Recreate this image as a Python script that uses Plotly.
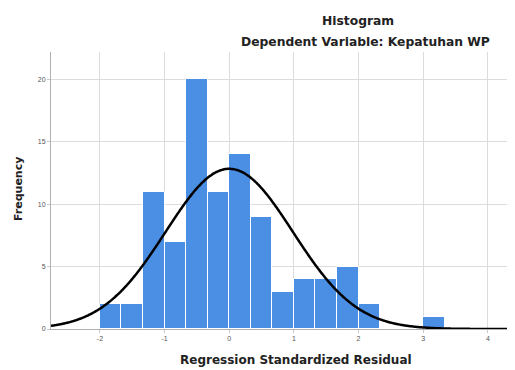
import numpy as np
import plotly.graph_objects as go

# Histogram data (bins of width 1/3 starting at -2)
bin_start = -2.0
bin_width = 1.0 / 3.0
counts = [2, 2, 11, 7, 20, 11, 14, 9, 3, 4, 4, 5, 2, 0, 0, 1]

# Normal curve parameters (SPSS-style overlay)
mean = 0.0
std_dev = 0.984
n_obs = sum(counts)

x_tick_vals = [-2, -1, 0, 1, 2, 3, 4]
x_tick_text = ["-2", "-1", "0", "1", "2", "3", "4"]
y_tick_vals = [0, 5, 10, 15, 20]
y_tick_text = ["0", "5", "10", "15", "20"]

x_range = [-2.757, 4.42]
y_range = [0, 22.2]

centers = [bin_start + bin_width * (i + 0.5) for i in range(len(counts))]

xs = np.linspace(x_range[0], x_range[1], 400)
ys = n_obs * bin_width / (std_dev * np.sqrt(2 * np.pi)) * np.exp(-0.5 * ((xs - mean) / std_dev) ** 2)

FONT = "Arial, Liberation Sans, sans-serif"
TFONT = "DejaVu Sans, Verdana, sans-serif"

OFF = 8  # default page body margin
W, H = 515 - OFF, 370 - OFF
L, R, T, B = 51 - OFF, 0, 52 - OFF, 41
PW, PH = W - L - R, H - T - B


def px(xp):
    return (xp - OFF - L) / PW


def py(yp):
    return (H - B - (yp - OFF)) / PH


fig = go.Figure()
fig.add_trace(go.Bar(
    x=centers, y=counts, width=bin_width,
    marker=dict(color="#4a8fe3", line=dict(color="white", width=1)),
    showlegend=False, hoverinfo="skip",
))
fig.add_trace(go.Scatter(
    x=xs, y=ys, mode="lines",
    line=dict(color="black", width=2.5, shape="spline"),
    showlegend=False, hoverinfo="skip",
))

fig.update_layout(
    width=W, height=H,
    margin=dict(l=L, r=R, t=T, b=B),
    paper_bgcolor="white", plot_bgcolor="white",
    bargap=0,
    font=dict(family=FONT, color="#222"),
    xaxis=dict(
        range=x_range, tickvals=x_tick_vals, ticktext=x_tick_text,
        showgrid=True, gridcolor="#dcdcdc", gridwidth=1,
        showline=True, linecolor="#b0b0b0", linewidth=1,
        zeroline=False, ticks="outside", ticklen=3, tickcolor="#c8c8c8",
        tickfont=dict(size=7, color="#555", family=FONT),
        automargin=False,
    ),
    yaxis=dict(
        range=y_range, tickvals=y_tick_vals, ticktext=y_tick_text,
        showgrid=True, gridcolor="#dcdcdc", gridwidth=1,
        showline=True, linecolor="#b0b0b0", linewidth=1,
        zeroline=False, ticks="outside", ticklen=3, tickcolor="#c8c8c8",
        tickfont=dict(size=7, color="#555", family=FONT),
        automargin=False,
    ),
    annotations=[
        dict(text="<b>Histogram</b>", xref="paper", yref="paper",
             x=px(358), y=py(21), showarrow=False,
             xanchor="center", yanchor="middle",
             font=dict(size=12.3, color="#222", family=TFONT)),
        dict(text="<b>Dependent Variable: Kepatuhan WP</b>", xref="paper", yref="paper",
             x=px(365), y=py(42), showarrow=False,
             xanchor="center", yanchor="middle",
             font=dict(size=12.3, color="#222", family=TFONT)),
        dict(text="<b>Regression Standardized Residual</b>", xref="paper", yref="paper",
             x=px(296), y=py(360), showarrow=False,
             xanchor="center", yanchor="middle",
             font=dict(size=12, color="#222", family=TFONT)),
        dict(text="<b>Frequency</b>", xref="paper", yref="paper",
             x=px(18), y=py(189), showarrow=False, textangle=-90,
             xanchor="center", yanchor="middle",
             font=dict(size=11, color="#222", family=TFONT)),
    ],
)

fig.write_html("out.html")
